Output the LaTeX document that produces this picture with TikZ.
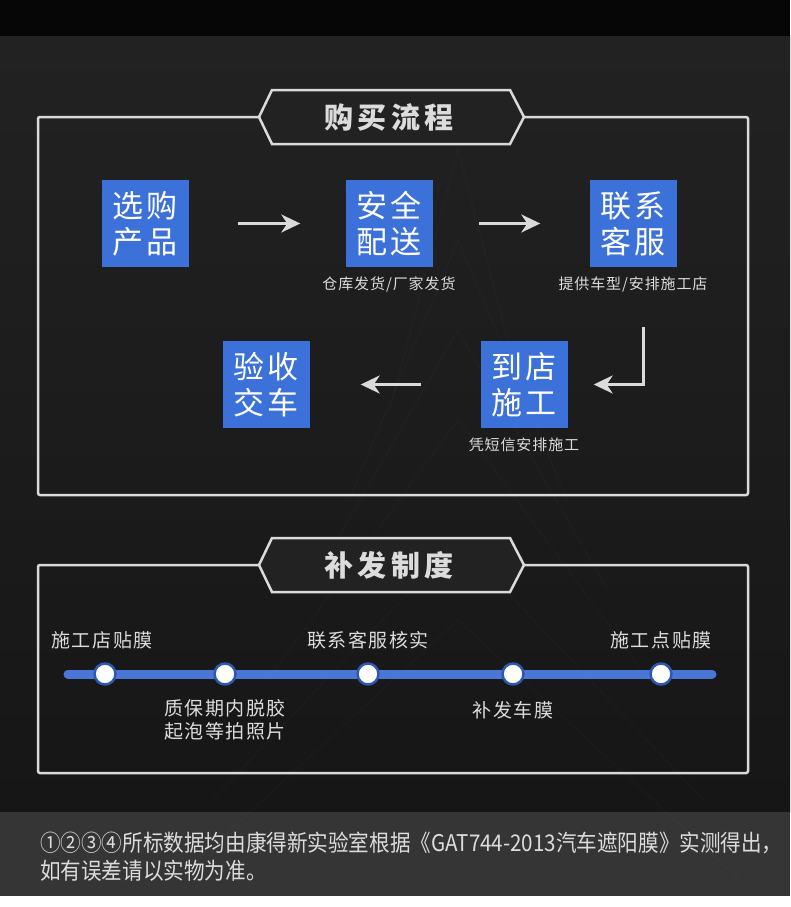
\documentclass[tikz,border=0pt]{standalone}
\usepackage{fontspec}
\setmainfont{Noto Sans CJK SC}
\usetikzlibrary{positioning,arrows.meta}
\definecolor{bgtop}{HTML}{060606}
\definecolor{bgmid}{HTML}{222222}
\definecolor{bglow}{HTML}{161616}
\definecolor{footgray}{HTML}{353535}
\definecolor{boxblue}{HTML}{3B71D8}
\definecolor{lineblue}{HTML}{4A77D6}
\definecolor{ringblue}{HTML}{2C57B5}
\definecolor{framegray}{HTML}{DADADA}
\definecolor{txtgray}{HTML}{DCDCDC}
\tikzset{
  stepbox/.style={fill=boxblue, minimum width=87pt, minimum height=87pt, inner sep=0pt,
    text=white, align=center, font={\fontsize{31}{36}\selectfont\addfontfeature{LetterSpace=10}}},
  flowarrow/.style={draw=framegray, line width=3pt, -{Stealth[length=19pt,width=18pt,inset=6pt]}},
  caption/.style={text=txtgray, inner sep=0pt, font={\fontsize{15}{18}\selectfont\addfontfeature{LetterSpace=6}}},
  frame/.style={draw=framegray, line width=2.5pt, rounded corners=2pt},
  hexa/.style={draw=framegray, line width=2.5pt, fill=bgmid},
  headtitle/.style={text=txtgray, font={\fontsize{29}{34}\selectfont\bfseries\addfontfeature{LetterSpace=14}}},
  dot/.style={circle, fill=white, draw=ringblue, line width=2.5pt, minimum size=21pt, inner sep=0pt},
  tllabel/.style={text=txtgray, inner sep=0pt, align=center, font={\fontsize{19}{23}\selectfont\addfontfeature{LetterSpace=8}}},
  foottext/.style={text=txtgray, inner sep=0pt, align=left, font={\fontsize{23}{28}\selectfont\addfontfeature{FakeStretch=0.895}}},
}
\begin{document}
\begin{tikzpicture}[x=1pt,y=-1pt]
\useasboundingbox (0,0) rectangle (790,907);
% background
\fill[white] (0,0) rectangle (790,907);
\shade[top color=bgmid, bottom color=bglow] (0,36) rectangle (790,812);
\fill[bgtop] (0,0) rectangle (790,36);
\fill[footgray] (0,812) rectangle (790,896);
\foreach \a in {150,240,330,420,540,620}
  \draw[white, opacity=0.025, line width=1pt] (458-\a/2.2,\a+260) -- (458,\a) -- (458+\a/2.2,\a+260);

% purchase flow
\draw[frame] (259,117) -- (38,117) -- (38,495) -- (748,495) -- (748,117) -- (524,117);
\draw[hexa] (259,117) -- (272,90) -- (510,90) -- (524,117) -- (510,144) -- (272,144) -- cycle;
\node[headtitle] (title1) at (389,117) {购买流程};

\node[stepbox] (xg) at (145,223.5) {选购\\产品};
\node[stepbox] (aq) at (389,223.5) {安全\\配送};
\node[stepbox] (lx) at (633,223.5) {联系\\客服};
\node[stepbox] (ys) at (266,384.5) {验收\\交车};
\node[stepbox] (dd) at (524,384.5) {到店\\施工};
\node[caption, below=9pt of aq] (aqcap) {仓库发货/厂家发货};
\node[caption, below=9pt of lx] (lxcap) {提供车型/安排施工店};
\node[caption, below=9pt of dd] (ddcap) {凭短信安排施工};

\coordinate (elbow) at (643,327);
\draw[flowarrow, shorten <=49pt, shorten >=45pt] (xg) -- (aq);
\draw[flowarrow, shorten <=46pt, shorten >=49pt] (aq) -- (lx);
\draw[flowarrow, shorten >=26pt] (elbow) |- (dd);
\draw[flowarrow, shorten <=59pt, shorten >=51pt] (dd) -- (ys);

% reissue policy
\draw[frame] (259,565) -- (38,565) -- (38,773) -- (748,773) -- (748,565) -- (524,565);
\draw[hexa] (259,565) -- (272,538) -- (510,538) -- (524,565) -- (510,592) -- (272,592) -- cycle;
\node[headtitle] (title2) at (389,565) {补发制度};

\coordinate (tla) at (68,674);
\coordinate (tlb) at (712,674);
\draw[lineblue, line width=9pt, line cap=round] (tla) -- (tlb);
\foreach \x/\n in {105/a,225/b,368/c,513/d,661/e}
  \node[dot] (d\n) at (\x,674) {};
\node[tllabel, above=13pt of da, xshift=-3pt] (la) {施工店贴膜};
\node[tllabel, below=13pt of db] (lb) {质保期内脱胶\\起泡等拍照片};
\node[tllabel, above=13pt of dc] (lc) {联系客服核实};
\node[tllabel, below=15pt of dd] (ld) {补发车膜};
\node[tllabel, above=13pt of de] (le) {施工点贴膜};

% note
\node[foottext, anchor=west] (note) at (40,857) {①②③④所标数据均由康得新实验室根据《GAT744-2013汽车遮阳膜》实测得出，\\如有误差请以实物为准。};
\end{tikzpicture}
\end{document}
